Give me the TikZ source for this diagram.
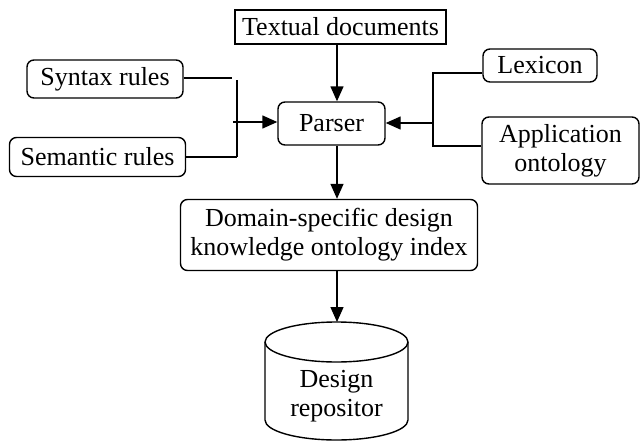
\documentclass[tikz,border=0pt]{standalone}
\usepackage{fontspec}
\setmainfont{Liberation Serif}
\newfontfamily\tms{Liberation Serif}
\usetikzlibrary{arrows.meta}
\begin{document}
\begin{tikzpicture}[x=1pt,y=-1pt,
  every node/.style={font=\tms\fontsize{26}{29}\selectfont, inner sep=0pt, align=center},
  rbox/.style={draw, line width=1.4pt, rounded corners=7pt},
  sbox/.style={draw, line width=1.4pt},
  conn/.style={line width=1.4pt},
  arr/.style={line width=1.4pt, -{Triangle[length=15pt,width=13pt]}}]
\useasboundingbox (0,0) rectangle (640,447);
% nodes
\node[sbox, minimum width=211pt, minimum height=34pt] (doc) at (340.5,27) {Textual documents};
\node[rbox, minimum width=107pt, minimum height=43pt] (parser) at (331.5,123.5) {Parser};
\node[rbox, minimum width=297pt, minimum height=71pt] (dom) at (329,235) {Domain-specific design\\knowledge ontology index};
\node[rbox, minimum width=156pt, minimum height=38pt] (syn) at (105,79) {Syntax rules};
\node[rbox, minimum width=176pt, minimum height=39pt] (sem) at (97.5,157) {Semantic rules};
\node[rbox, minimum width=114pt, minimum height=33pt] (lex) at (540,65.5) {Lexicon};
\node[rbox, minimum width=157pt, minimum height=67pt] (app) at (560.5,150.5) {Application\\ontology};
% cylinder
\draw[line width=1.4pt] (265,342) -- (265,420) arc[start angle=180,end angle=360,x radius=71.5,y radius=-20] -- (408,342);
\draw[line width=1.4pt] (336.5,342) ellipse[x radius=71.5, y radius=20];
\coordinate (repotop) at (337,322);
\node (repo) at (336.5,396) {Design\\repositor};
% coordinates
\coordinate (ax) at (337,0);
\coordinate (ltop) at (237,80);
\coordinate (lbot) at (237,157);
\coordinate (synend) at (232,78);
\coordinate (ls) at (233,122);
\coordinate (rj) at (433,123);
\coordinate (rtop) at (433,73);
\coordinate (rbot) at (433,146);
% vertical arrows
\draw[arr] (doc.south -| ax) -- (parser.north -| ax);
\draw[arr] (parser.south -| ax) -- (dom.north -| ax);
\draw[arr] (dom.south -| ax) -- (repotop);
% left connectors
\draw[conn] (syn.east |- synend) -- (synend);
\draw[conn] (ltop) -- (lbot);
\draw[conn] (sem.east |- lbot) -- (lbot);
\draw[arr] (ls) -- (parser.west |- ls);
% right connectors
\draw[conn] (lex.west |- rtop) -- (rtop) -- (rbot) -- (app.west |- rbot);
\draw[arr] (rj) -- (parser.east |- rj);
\end{tikzpicture}
\end{document}
